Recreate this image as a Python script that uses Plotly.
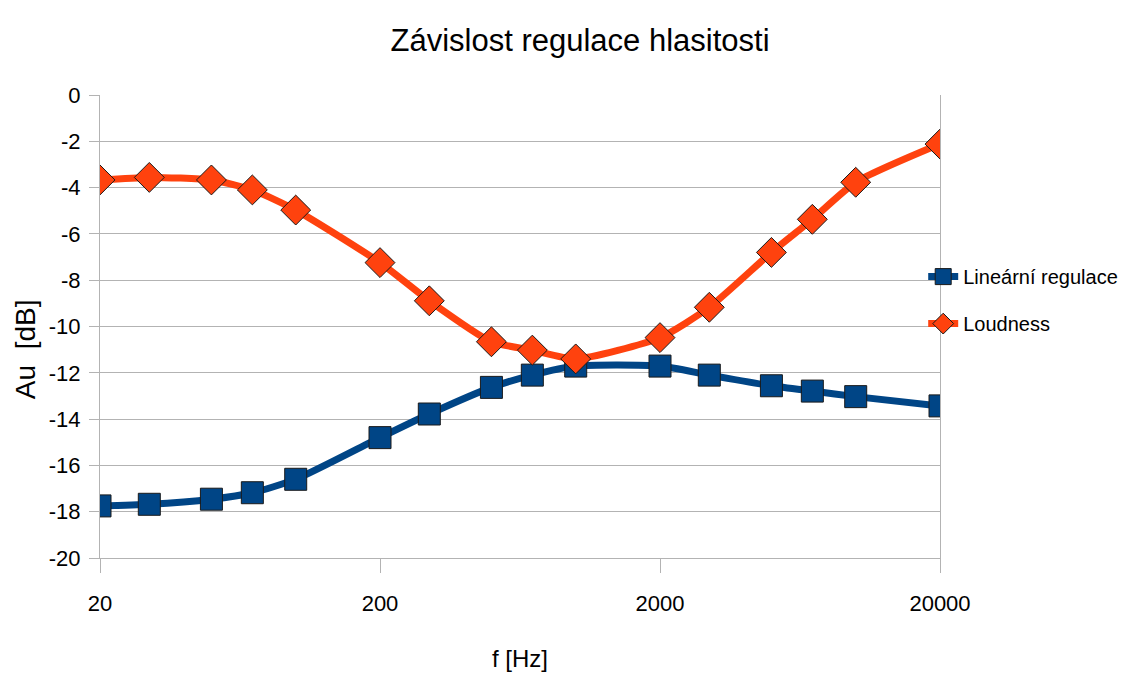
import plotly.graph_objects as go

freq = [20, 30, 50, 70, 100, 200, 300, 500, 700, 1000, 2000, 3000, 5000, 7000, 10000, 20000]
linear = [-17.75, -17.68, -17.46, -17.18, -16.6, -14.8, -13.78, -12.63, -12.1, -11.71,
          -11.71, -12.1, -12.56, -12.79, -13.03, -13.43]
loudness = [-3.67, -3.56, -3.67, -4.1, -4.97, -7.24, -8.89, -10.66, -11.02, -11.4,
            -10.48, -9.17, -6.8, -5.37, -3.77, -2.12]
xticks = [20, 200, 2000, 20000]
yticks = list(range(-20, 1, 2))

FONT = "Liberation Sans, Arial, sans-serif"
GRID = "#b3b3b3"

fig = go.Figure()
fig.add_trace(go.Scatter(
    x=freq, y=linear, name="Lineární regulace", mode="lines+markers", legendgroup="a",
    line=dict(color="#004586", width=7, shape="spline", smoothing=0.6),
    marker=dict(symbol="square", size=22, color="#004586", line=dict(color="#1a1a1a", width=1)),
))
fig.add_trace(go.Scatter(
    x=freq, y=loudness, name="Loudness", mode="lines+markers", legendgroup="b",
    line=dict(color="#ff420e", width=7, shape="spline", smoothing=0.6),
    marker=dict(symbol="diamond", size=23, color="#ff420e", line=dict(color="#1a1a1a", width=1)),
))

fig.update_layout(
    width=1123, height=665,
    margin=dict(l=92, r=191, t=87, b=115, autoexpand=False),
    paper_bgcolor="white", plot_bgcolor="white",
    font=dict(family=FONT, color="black", size=22),
    title=dict(text="Závislost regulace hlasitosti", font=dict(size=31, family=FONT, color="black"),
               x=572 / 1123, xanchor="center", y=1 - 32 / 665, yanchor="middle", xref="container", yref="container"),
    legend=dict(x=0.98, xanchor="left", y=0.557, yanchor="middle",
                font=dict(size=20, family=FONT, color="black"),
                bgcolor="rgba(0,0,0,0)", tracegroupgap=18, itemwidth=30),
    showlegend=True,
    annotations=[dict(text="Au  [dB]", textangle=-90, xref="paper", yref="paper",
                      x=-0.0893, y=0.451, xanchor="center", yanchor="middle", showarrow=False,
                      font=dict(size=28, family=FONT, color="black"))],
)
fig.update_xaxes(
    type="log", range=[1.30103, 4.30103], tickvals=xticks, ticktext=[str(v) for v in xticks],
    automargin=False,
    showgrid=False, zeroline=False, showline=True, linecolor=GRID, linewidth=1,
    ticks="outside", ticklen=14, tickcolor=GRID, tickwidth=1, ticklabelstandoff=12,
    tickfont=dict(size=22, family=FONT, color="black"),
    title=dict(text="f [Hz]", font=dict(size=24, family=FONT, color="black"), standoff=34),
)
fig.update_yaxes(
    range=[-20, 0], tickvals=yticks, ticktext=[str(v) for v in yticks], automargin=False,
    showgrid=True, gridcolor=GRID, gridwidth=1, zeroline=False,
    showline=True, mirror=True, linecolor=GRID, linewidth=1,
    ticks="outside", ticklen=10, tickcolor=GRID, tickwidth=1, ticklabelstandoff=4,
    tickfont=dict(size=22, family=FONT, color="black"),
)

fig.write_html("out.html")
